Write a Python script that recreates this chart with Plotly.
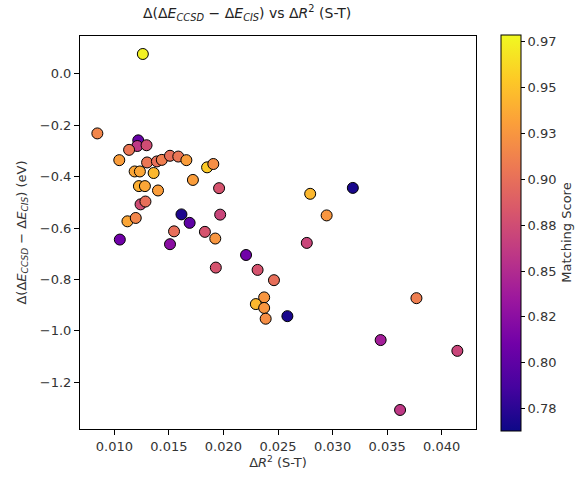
import plotly.graph_objects as go

# ΔR² (S-T) for each state pair
delta_r2 = [
    0.01261, 0.00844, 0.01219, 0.01210, 0.01295, 0.01135, 0.01045, 0.01300,
    0.01390, 0.01435, 0.01510, 0.01586, 0.01660, 0.01850, 0.01907, 0.01186,
    0.01234, 0.01360, 0.01720, 0.01960, 0.01225, 0.01280, 0.01400, 0.01240,
    0.01285, 0.01615, 0.01970, 0.01120, 0.01196, 0.01690, 0.01050, 0.01510,
    0.01547, 0.01830, 0.01925, 0.01930, 0.02207, 0.02313, 0.02463, 0.02373,
    0.02297, 0.02373, 0.02387, 0.02946, 0.02764, 0.02586, 0.03769, 0.03441,
    0.04144, 0.03619, 0.02795, 0.03186,
]

# Δ(ΔE_CCSD − ΔE_CIS) in eV
delta_e = [
    0.077, -0.232, -0.259, -0.281, -0.278, -0.296, -0.336, -0.345,
    -0.341, -0.335, -0.319, -0.322, -0.336, -0.364, -0.351, -0.380,
    -0.380, -0.386, -0.413, -0.445, -0.437, -0.437, -0.454, -0.508,
    -0.497, -0.547, -0.548, -0.574, -0.561, -0.580, -0.645, -0.663,
    -0.613, -0.615, -0.641, -0.754, -0.705, -0.763, -0.803, -0.870,
    -0.896, -0.911, -0.953, -0.551, -0.658, -0.943, -0.873, -1.036,
    -1.078, -1.308, -0.467, -0.444,
]

# matching score used for the colour of each point
matching_score = [
    0.975, 0.915, 0.805, 0.860, 0.875, 0.905, 0.930, 0.905,
    0.900, 0.910, 0.900, 0.905, 0.930, 0.955, 0.920, 0.935,
    0.935, 0.945, 0.930, 0.880, 0.940, 0.935, 0.930, 0.875,
    0.900, 0.770, 0.870, 0.935, 0.915, 0.800, 0.810, 0.825,
    0.900, 0.880, 0.925, 0.880, 0.810, 0.880, 0.900, 0.925,
    0.945, 0.925, 0.920, 0.925, 0.870, 0.768, 0.910, 0.840,
    0.870, 0.860, 0.945, 0.768,
]

cbar_tickvals = [0.775, 0.800, 0.825, 0.850, 0.875, 0.900, 0.925, 0.950, 0.975]
cbar_ticktext = ["0.78", "0.80", "0.82", "0.85", "0.88", "0.90", "0.93", "0.95", "0.97"]

FONT = "DejaVu Sans"
TXT = "#333"
W, H = 586, 478
L, R, T, B = 80, 103, 36, 46
plot_w = W - L - R
plot_h = H - T - B

fig = go.Figure(
    go.Scatter(
        x=delta_r2,
        y=delta_e,
        mode="markers",
        marker=dict(
            size=11,
            color=matching_score,
            colorscale="Plasma",
            cmin=0.763,
            cmax=0.979,
            line=dict(color="black", width=1),
            opacity=1,
            colorbar=dict(
                x=(508 - L) / plot_w,
                xanchor="left",
                xref="paper",
                xpad=0,
                y=0.5,
                yanchor="middle",
                ypad=0,
                len=plot_h,
                lenmode="pixels",
                thickness=20,
                thicknessmode="pixels",
                outlinecolor="black",
                outlinewidth=1,
                tickvals=cbar_tickvals,
                ticktext=cbar_ticktext,
                ticks="outside",
                ticklen=4,
                tickcolor="black",
                tickfont=dict(family=FONT, size=13, color=TXT),
                title=dict(
                    text="Matching Score",
                    side="right",
                    font=dict(family=FONT, size=13, color=TXT),
                ),
            ),
        ),
        showlegend=False,
    )
)

fig.update_layout(
    width=W,
    height=H,
    margin=dict(l=L, r=R, t=T, b=B),
    paper_bgcolor="white",
    plot_bgcolor="white",
    font=dict(family=FONT, size=12, color=TXT),
    title=dict(
        text="Δ(Δ<i>E</i><sub><i>CCSD</i></sub> − Δ<i>E</i><sub><i>CIS</i></sub>) vs Δ<i>R</i><sup>2</sup> (S-T)",
        x=(250 - L) / plot_w,
        xref="paper",
        xanchor="center",
        y=1 - 13 / H,
        yanchor="middle",
        font=dict(family=FONT, size=14, color="#222"),
    ),
)

fig.update_xaxes(
    range=[0.00685, 0.04315],
    tickvals=[0.010, 0.015, 0.020, 0.025, 0.030, 0.035, 0.040],
    tickformat=".3f",
    ticks="outside",
    ticklen=5,
    tickcolor="black",
    showline=True,
    linecolor="black",
    linewidth=1,
    mirror=True,
    showgrid=False,
    zeroline=False,
    tickfont=dict(family=FONT, size=13, color=TXT),
    title=dict(
        text="Δ<i>R</i><sup>2</sup> (S-T)",
        standoff=3,
        font=dict(family=FONT, size=13, color=TXT),
    ),
)

fig.update_yaxes(
    range=[-1.382, 0.147],
    tickvals=[0.0, -0.2, -0.4, -0.6, -0.8, -1.0, -1.2],
    tickformat=".1f",
    ticks="outside",
    ticklen=5,
    tickcolor="black",
    showline=True,
    linecolor="black",
    linewidth=1,
    mirror=True,
    showgrid=False,
    zeroline=False,
    tickfont=dict(family=FONT, size=13, color=TXT),
    title=dict(
        text="Δ(Δ<i>E</i><sub><i>CCSD</i></sub> − Δ<i>E</i><sub><i>CIS</i></sub>) (eV)",
        standoff=10,
        font=dict(family=FONT, size=13, color=TXT),
    ),
)

fig.write_html("out.html")
